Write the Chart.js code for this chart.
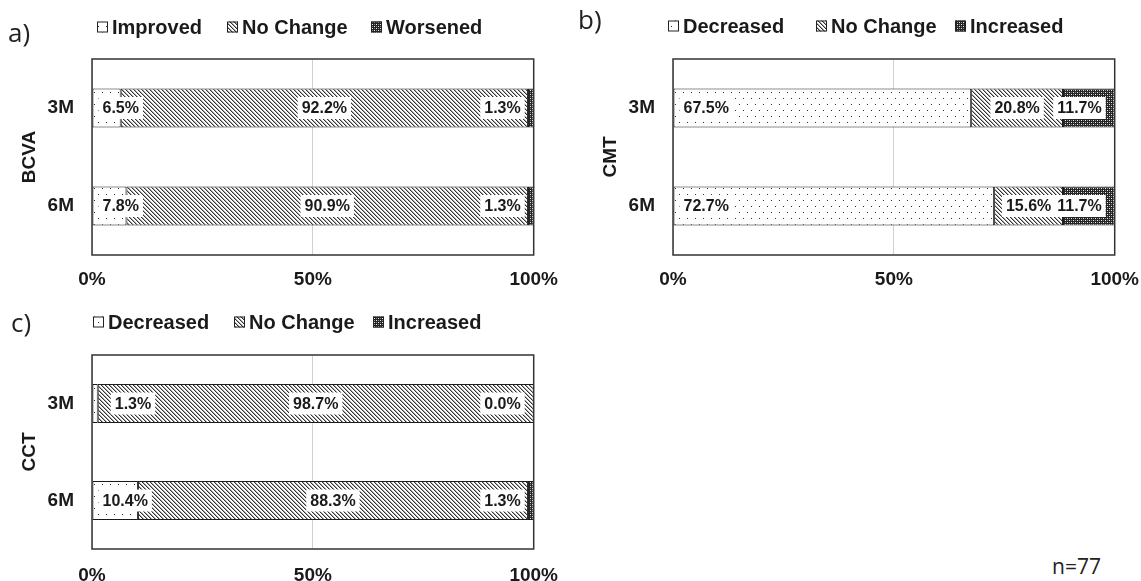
<!DOCTYPE html>
<html>
<head>
<meta charset="utf-8">
<title>Change in BCVA, CMT and CCT at 3 and 6 months</title>
<script src="https://cdn.jsdelivr.net/npm/chart.js@4.4.1/dist/chart.umd.min.js"></script>
<style>
  html, body { margin: 0; padding: 0; background: #fff; }
  body { position: relative; width: 1141px; height: 581px; overflow: hidden; }
  canvas { position: absolute; display: block; }
  .tag { position: absolute; font-family: "Open Sans", "Noto Sans", sans-serif; color: #222; line-height: 1; white-space: nowrap; }
</style>
</head>
<body>
<canvas id="chartA" width="571" height="300" style="left:0;top:0"></canvas>
<canvas id="chartB" width="571" height="300" style="left:581px;top:0"></canvas>
<canvas id="chartC" width="573" height="285" style="left:0;top:296px"></canvas>
<div class="tag" style="left:8px;top:19px;font-size:26px">a)</div>
<div class="tag" style="left:578px;top:6px;font-size:26px">b)</div>
<div class="tag" style="left:11px;top:309px;font-size:26px">c)</div>
<div class="tag" id="nLabel" style="left:1052px;top:556px;font-size:21px"></div>
<script>
// ---- data ----
const periods = ['3M', '6M'];

const bcvaImproved = [6.5, 7.8];
const bcvaNoChange = [92.2, 90.9];
const bcvaWorsened = [1.3, 1.3];

const cmtDecreased = [67.5, 72.7];
const cmtNoChange = [20.8, 15.6];
const cmtIncreased = [11.7, 11.7];

const cctDecreased = [1.3, 10.4];
const cctNoChange = [98.7, 88.3];
const cctIncreased = [0.0, 1.3];

const axisTicks = [0, 50, 100];
const sampleSize = 77;

// ---- fills ----
const INK = '#1a1a1a';
const FONT = '"Liberation Sans", Arial, Helvetica, sans-serif';

function tile(w, h, paint) {
  const c = document.createElement('canvas');
  c.width = w; c.height = h;
  const g = c.getContext('2d');
  g.fillStyle = '#fff';
  g.fillRect(0, 0, w, h);
  paint(g);
  return g.createPattern(c, 'repeat');
}

// sparse dots
const dotFill = tile(8, 12, g => {
  g.fillStyle = '#333';
  g.fillRect(2, 2, 1, 1);
  g.fillRect(6, 8, 1, 1);
});
// dense back-diagonal hatching
const hatchFill = tile(4, 4, g => {
  for (let i = 0; i < 4; i++) {
    g.fillStyle = '#333';
    g.fillRect(i, i, 1, 1);
    g.fillStyle = '#a8a8a8';
    g.fillRect((i + 1) % 4, i, 1, 1);
  }
});
// dark small checker
const darkFill = tile(4, 4, g => {
  g.fillStyle = '#242424';
  g.fillRect(0, 0, 4, 4);
  g.fillStyle = '#f0f0f0';
  g.fillRect(0, 0, 1, 1);
  g.fillRect(2, 2, 1, 1);
  g.fillStyle = '#8c8c8c';
  g.fillRect(2, 0, 1, 1);
  g.fillRect(0, 2, 1, 1);
});
const fills = [dotFill, hatchFill, darkFill];

// ---- plugins ----
const framePlugin = {
  id: 'frameAndLabels',
  afterDatasetsDraw(chart) {
    const { ctx, chartArea: a } = chart;
    ctx.save();
    // plot frame
    ctx.strokeStyle = '#333';
    ctx.lineWidth = 1.5;
    ctx.strokeRect(a.left, a.top, a.right - a.left, a.bottom - a.top);

    // segment value labels on white boxes
    ctx.font = 'bold 16px ' + FONT;
    ctx.textBaseline = 'middle';
    ctx.textAlign = 'left';
    chart.data.datasets.forEach((ds, di) => {
      const meta = chart.getDatasetMeta(di);
      meta.data.forEach((bar, j) => {
        const v = ds.data[j];
        const txt = v.toFixed(1) + '%';
        const w = ctx.measureText(txt).width;
        const start = Math.min(bar.base, bar.x);
        const end = Math.max(bar.base, bar.x);
        let left;
        if (di === 0) {
          left = (end - start) < 10 ? end + 17 : start + 10;
        } else if (di === 1) {
          left = (start + end) / 2 - w / 2;
        } else {
          left = end - 13 - w;
        }
        ctx.fillStyle = '#fff';
        ctx.fillRect(left - 4, bar.y - 11, w + 8, 22);
        ctx.fillStyle = INK;
        ctx.fillText(txt, left, bar.y + 1);
      });
    });
    ctx.restore();
  },
  afterDraw(chart) {
    // legend row above the plot
    const opts = chart.options.plugins.frameAndLabels;
    const ctx = chart.ctx;
    ctx.save();
    ctx.font = 'bold 20px ' + FONT;
    ctx.textBaseline = 'middle';
    ctx.textAlign = 'left';
    chart.data.datasets.forEach((ds, i) => {
      const x = opts.legendX[i];
      const y = opts.legendY;
      ctx.fillStyle = ds.backgroundColor;
      ctx.fillRect(x - 15, y - 5.5, 11, 11);
      ctx.strokeStyle = '#222';
      ctx.lineWidth = 1;
      ctx.strokeRect(x - 14.5, y - 5, 10, 10);
      ctx.fillStyle = INK;
      ctx.fillText(ds.label, x, y + 1);
    });
    ctx.restore();
  }
};

function build(canvasId, title, names, series, layout) {
  const datasets = series.map((values, i) => ({
    label: names[i],
    data: values,
    backgroundColor: fills[i],
    borderColor: '#1a1a1a',
    borderWidth: 1,
    borderSkipped: false,
    barPercentage: 0.4,
    categoryPercentage: 1.0
  }));
  return new Chart(document.getElementById(canvasId), {
    type: 'bar',
    data: { labels: periods, datasets },
    options: {
      indexAxis: 'y',
      responsive: false,
      animation: false,
      devicePixelRatio: 1,
      layout: { padding: { top: 59, right: 0, left: 0, bottom: 0 } },
      plugins: {
        legend: { display: false },
        tooltip: { enabled: false },
        frameAndLabels: { legendX: layout.legendX, legendY: layout.legendY }
      },
      scales: {
        x: {
          stacked: true,
          min: 0,
          max: 100,
          grid: { color: '#d2d2d2', lineWidth: 1, drawTicks: false },
          border: { display: false },
          ticks: {
            padding: layout.tickPad,
            color: INK,
            font: { family: FONT, size: 19, weight: 'bold' },
            callback: v => v + '%'
          },
          afterBuildTicks(s) { s.ticks = axisTicks.map(v => ({ value: v })); },
          afterFit(s) { s.height = layout.xHeight; }
        },
        y: {
          stacked: true,
          grid: { display: false, drawTicks: false },
          border: { display: false },
          ticks: {
            padding: 18,
            color: INK,
            font: { family: FONT, size: 19, weight: 'bold' }
          },
          title: {
            display: true,
            text: title,
            color: INK,
            font: { family: FONT, size: 19, weight: 'bold' },
            padding: { top: 18, bottom: 0 }
          },
          afterFit(s) { s.width = 92; }
        }
      }
    },
    plugins: [framePlugin]
  });
}

build('chartA', 'BCVA', ['Improved', 'No Change', 'Worsened'],
  [bcvaImproved, bcvaNoChange, bcvaWorsened],
  { xHeight: 45, tickPad: 13, legendX: [112, 242, 386], legendY: 27 });

build('chartB', 'CMT', ['Decreased', 'No Change', 'Increased'],
  [cmtDecreased, cmtNoChange, cmtIncreased],
  { xHeight: 45, tickPad: 13, legendX: [102, 250, 389], legendY: 26 });

build('chartC', 'CCT', ['Decreased', 'No Change', 'Increased'],
  [cctDecreased, cctNoChange, cctIncreased],
  { xHeight: 32, tickPad: 15, legendX: [108, 249, 388], legendY: 26 });

document.getElementById('nLabel').textContent = 'n=' + sampleSize;
</script>
</body>
</html>
